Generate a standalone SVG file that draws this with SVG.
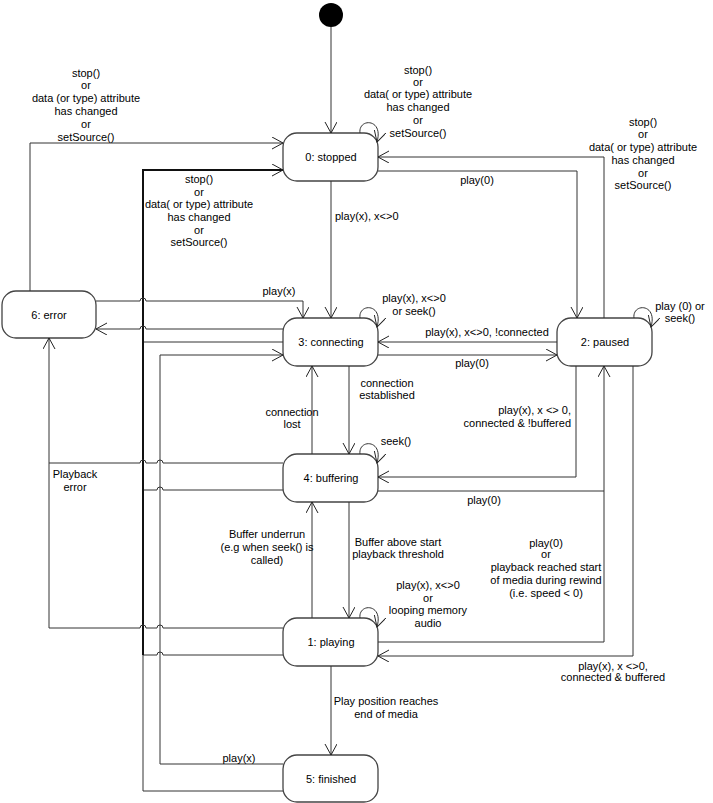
<svg xmlns="http://www.w3.org/2000/svg" width="713" height="803" viewBox="0 0 713 803">
<defs>
<marker id="arr" markerUnits="userSpaceOnUse" markerWidth="14" markerHeight="14" refX="11" refY="6" orient="auto">
<path d="M0,0 L11,6 L0,12" fill="none" stroke="#222" stroke-width="1"/>
</marker>
<style>
.n rect{fill:#fff;stroke:#444;stroke-width:1.3}
text{font-family:"Liberation Sans",Arial,sans-serif;font-size:11px;fill:#000}
.nt{text-anchor:middle}
.c path{fill:none;stroke:#333;stroke-width:1}
.c path.a{marker-end:url(#arr)}
.c path.k{stroke:#111;stroke-width:2}
.m{text-anchor:middle}
</style>
</defs>
<rect width="713" height="803" fill="#fff"/>

<g id="initial"><circle cx="331" cy="15" r="12" fill="#000"/></g>
<g id="stopped" class="n"><rect x="283" y="133" width="95" height="48" rx="14"/><text class="nt" x="331" y="161">0: stopped</text></g>
<g id="connecting" class="n"><rect x="283" y="318" width="95" height="48" rx="14"/><text class="nt" x="331" y="346">3: connecting</text></g>
<g id="buffering" class="n"><rect x="283" y="454" width="95" height="48" rx="14"/><text class="nt" x="331" y="482">4: buffering</text></g>
<g id="playing" class="n"><rect x="283" y="618" width="95" height="48" rx="14"/><text class="nt" x="331" y="646">1: playing</text></g>
<g id="finished" class="n"><rect x="283" y="755" width="95" height="47" rx="14"/><text class="nt" x="331" y="783">5: finished</text></g>
<g id="error" class="n"><rect x="2" y="291" width="94" height="47" rx="14"/><text class="nt" x="49" y="319">6: error</text></g>
<g id="paused" class="n"><rect x="557" y="318" width="95" height="48" rx="14"/><text class="nt" x="605" y="346">2: paused</text></g>

<g id="connectors" class="c">
<path class="a" d="M331,27 V133"/>
<path class="a" d="M331,181 V318"/>
<path class="a" d="M378,171 H577 V318"/>
<path class="a" d="M604,318 V157 H378"/>
<path class="a" d="M30,291 V143 H283"/>
<path d="M283,342 H143"/>
<path d="M283,490 H163 a3,3 0 0 0 -6,0 H143"/>
<path d="M283,655 H163 a3,3 0 0 0 -6,0 H143"/>
<path d="M283,791 H143 V655"/>
<path class="a k" d="M143,655 V170 H283"/>
<path class="a" d="M283,764 H160 V355 H283"/>
<path class="a" d="M283,329 H146 a3,3 0 0 0 -6,0 H96"/>
<path class="a" d="M96,301 H140 a3,3 0 0 1 6,0 H303 V318"/>
<path class="a" d="M283,463 H163 a3,3 0 0 0 -6,0 H146 a3,3 0 0 0 -6,0 H49 V338"/>
<path d="M283,628 H163 a3,3 0 0 0 -6,0 H146 a3,3 0 0 0 -6,0 H49 V463"/>
<path class="a" d="M349,366 V454"/>
<path class="a" d="M312,454 V366"/>
<path class="a" d="M557,342 H378"/>
<path class="a" d="M378,355 H557"/>
<path class="a" d="M576,366 V477 H378"/>
<path class="a" d="M378,491 H604 V366"/>
<path d="M378,642 H604 V491"/>
<path class="a" d="M633,366 V656 H378"/>
<path class="a" d="M349,502 V618"/>
<path class="a" d="M312,618 V502"/>
<path class="a" d="M331,666 V755"/>
<path class="a" d="M360,133 C358,118 384,118 377,142"/>
<path class="a" d="M360,318 C358,303 384,303 377,327"/>
<path class="a" d="M360,454 C358,439 384,439 377,463"/>
<path class="a" d="M360,618 C358,603 384,603 377,627"/>
<path class="a" d="M634,318 C632,303 658,303 651,327"/>
</g>

<g id="labels">
<text class="m" x="86" y="77">stop()</text>
<text class="m" x="86" y="89">or</text>
<text class="m" x="86" y="102">data (or type) attribute</text>
<text class="m" x="86" y="115">has changed</text>
<text class="m" x="86" y="128">or</text>
<text class="m" x="86" y="141">setSource()</text>

<text class="m" x="418" y="74">stop()</text>
<text class="m" x="418" y="86">or</text>
<text class="m" x="418" y="98">data( or type) attribute</text>
<text class="m" x="418" y="111">has changed</text>
<text class="m" x="418" y="124">or</text>
<text class="m" x="418" y="137">setSource()</text>

<text class="m" x="643" y="126">stop()</text>
<text class="m" x="643" y="138">or</text>
<text class="m" x="643" y="151">data( or type) attribute</text>
<text class="m" x="643" y="164">has changed</text>
<text class="m" x="643" y="177">or</text>
<text class="m" x="643" y="189">setSource()</text>

<text class="m" x="199" y="183">stop()</text>
<text class="m" x="199" y="196">or</text>
<text class="m" x="199" y="208">data( or type) attribute</text>
<text class="m" x="199" y="221">has changed</text>
<text class="m" x="199" y="234">or</text>
<text class="m" x="199" y="246">setSource()</text>

<text x="335" y="220">play(x), x&lt;&gt;0</text>
<text class="m" x="477" y="184">play(0)</text>
<text class="m" x="279" y="295">play(x)</text>
<text class="m" x="414" y="302">play(x), x&lt;&gt;0</text>
<text class="m" x="414" y="315">or seek()</text>
<text class="m" x="487" y="336">play(x), x&lt;&gt;0, !connected</text>
<text class="m" x="472" y="367">play(0)</text>
<text class="m" x="387" y="387">connection</text>
<text class="m" x="387" y="399">established</text>
<text class="m" x="292" y="416">connection</text>
<text class="m" x="292" y="428">lost</text>
<text x="571" y="414" text-anchor="end">play(x), x &lt;&gt; 0,</text>
<text x="571" y="427" text-anchor="end">connected &amp; !buffered</text>
<text class="m" x="396" y="445">seek()</text>
<text class="m" x="484" y="504">play(0)</text>
<text class="m" x="75" y="478">Playback</text>
<text class="m" x="75" y="491">error</text>
<text class="m" x="680" y="310">play (0) or</text>
<text class="m" x="680" y="322">seek()</text>
<text class="m" x="267" y="538">Buffer underrun</text>
<text class="m" x="267" y="551">(e.g when seek() is</text>
<text class="m" x="267" y="564">called)</text>
<text class="m" x="398" y="546">Buffer above start</text>
<text class="m" x="398" y="558">playback threshold</text>
<text class="m" x="546" y="547">play(0)</text>
<text class="m" x="546" y="558">or</text>
<text class="m" x="546" y="571">playback reached start</text>
<text class="m" x="546" y="584">of media during rewind</text>
<text class="m" x="546" y="597">(i.e. speed &lt; 0)</text>
<text class="m" x="428" y="589">play(x), x&lt;&gt;0</text>
<text class="m" x="428" y="602">or</text>
<text class="m" x="428" y="614">looping memory</text>
<text class="m" x="428" y="627">audio</text>
<text class="m" x="613" y="670">play(x), x &lt;&gt;0,</text>
<text class="m" x="613" y="681">connected &amp; buffered</text>
<text class="m" x="386" y="705">Play position reaches</text>
<text class="m" x="386" y="718">end of media</text>
<text class="m" x="239" y="762">play(x)</text>
</g>
</svg>
